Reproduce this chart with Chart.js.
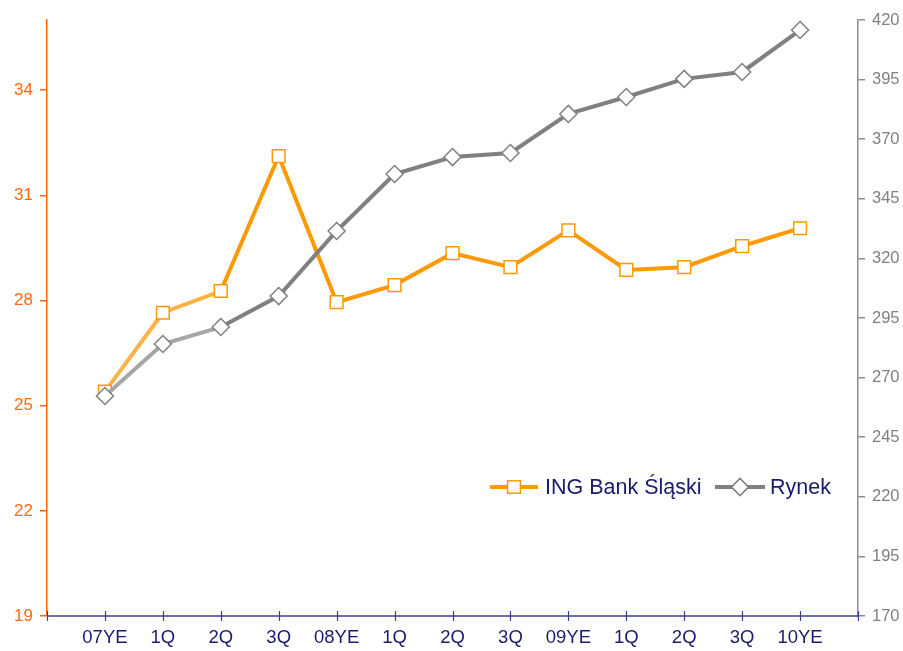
<!DOCTYPE html>
<html>
<head>
<meta charset="utf-8">
<script src="https://cdn.jsdelivr.net/npm/chart.js@4.4.1/dist/chart.umd.min.js"></script>
<style>
html,body{margin:0;padding:0;background:#fff;}
#wrap{width:903px;height:651px;position:relative;}
</style>
</head>
<body>
<div id="wrap"><canvas id="c" width="903" height="651"></canvas></div>
<script>
const categories = ['', '07YE', '1Q', '2Q', '3Q', '08YE', '1Q', '2Q', '3Q', '09YE', '1Q', '2Q', '3Q', '10YE', ''];
const ingValues = [null, 25.4, 27.65, 28.27, 32.12, 27.95, 28.44, 29.35, 28.95, 30.0, 28.87, 28.95, 29.55, 30.06, null];
const rynekValues = [null, 262.3, 284.1, 291.2, 304.2, 331.5, 355.4, 362.5, 364.2, 380.6, 387.7, 395.3, 398.2, 415.8, null];
const leftTicks = [19, 22, 25, 28, 31, 34];
const rightTicks = [170, 195, 220, 245, 270, 295, 320, 345, 370, 395, 420];
const seriesNames = ['ING Bank Śląski', 'Rynek'];

const NAVY = '#1a1a6e';
const AXIS_NAVY = '#3b3f8c';
const ORANGE = '#ff9900';
const ORANGE_L = '#ffb347';
const GREY = '#808080';
const GREY_L = '#a6a6a6';
const FONT = 'Liberation Sans, Arial, sans-serif';

const xTickPlugin = {
  id: 'xTicks',
  afterDatasetsDraw(chart) {
    const x = chart.scales.x;
    const ctx = chart.ctx;
    const y = x.top;
    ctx.save();
    ctx.strokeStyle = AXIS_NAVY;
    ctx.lineWidth = 1.5;
    ctx.beginPath();
    ctx.moveTo(x.left, y);
    ctx.lineTo(x.right, y);
    ctx.stroke();
    ctx.lineWidth = 1.2;
    for (let i = 0; i < categories.length; i++) {
      const px = Math.round(x.getPixelForValue(i)) + 0.5;
      ctx.beginPath();
      ctx.moveTo(px, y - 5);
      ctx.lineTo(px, y + 5);
      ctx.stroke();
    }
    ctx.restore();
  }
};

const legendPlugin = {
  id: 'customLegend',
  afterDraw(chart) {
    const ctx = chart.ctx;
    const y = 487;
    const items = [
      {x0: 490, x1: 538, color: ORANGE, style: 'rect', r: 9, name: seriesNames[0], tx: 545},
      {x0: 715, x1: 765, color: GREY, style: 'rectRot', r: 8.5, name: seriesNames[1], tx: 770}
    ];
    ctx.save();
    items.forEach(it => {
      ctx.strokeStyle = it.color;
      ctx.lineWidth = 4;
      ctx.beginPath();
      ctx.moveTo(it.x0, y);
      ctx.lineTo(it.x1, y);
      ctx.stroke();
      ctx.fillStyle = '#fff';
      ctx.lineWidth = 1.5;
      Chart.helpers.drawPoint(ctx, {pointStyle: it.style, radius: it.r, borderWidth: 1.5}, (it.x0 + it.x1) / 2, y);
      ctx.fill();
      ctx.stroke();
      ctx.fillStyle = NAVY;
      ctx.font = '21.5px ' + FONT;
      ctx.textBaseline = 'middle';
      ctx.textAlign = 'left';
      ctx.fillText(it.name, it.tx, y + 1);
    });
    ctx.restore();
  }
};

new Chart(document.getElementById('c'), {
  type: 'line',
  data: {
    labels: categories,
    datasets: [
      {
        label: seriesNames[0],
        data: ingValues,
        yAxisID: 'y',
        borderColor: ORANGE,
        borderWidth: 4,
        pointStyle: 'rect',
        pointRadius: 9,
        pointHoverRadius: 9,
        pointBackgroundColor: '#fff',
        pointBorderColor: ORANGE,
        pointBorderWidth: 1.5,
        tension: 0,
        order: 1,
        segment: {
          borderColor: c => (c.p0DataIndex <= 2 ? ORANGE_L : ORANGE)
        }
      },
      {
        label: seriesNames[1],
        data: rynekValues,
        yAxisID: 'y1',
        borderColor: GREY,
        borderWidth: 4,
        pointStyle: 'rectRot',
        pointRadius: 8.5,
        pointHoverRadius: 8.5,
        pointBackgroundColor: '#fff',
        pointBorderColor: GREY,
        pointBorderWidth: 1.5,
        tension: 0,
        order: 0,
        segment: {
          borderColor: c => (c.p0DataIndex <= 2 ? GREY_L : GREY)
        }
      }
    ]
  },
  options: {
    responsive: false,
    animation: false,
    layout: {padding: {top: 20, left: 0, right: 0, bottom: 0}},
    plugins: {legend: {display: false}, tooltip: {enabled: false}},
    scales: {
      x: {
        type: 'category',
        offset: false,
        grid: {display: false, drawTicks: false},
        border: {display: false},
        ticks: {color: NAVY, font: {family: FONT, size: 18.5}, padding: 11, autoSkip: false, maxRotation: 0},
        afterFit(s) { s.height = 35; }
      },
      y: {
        position: 'left',
        min: 19, max: 36,
        afterBuildTicks(s) { s.ticks = leftTicks.map(v => ({value: v})); },
        grid: {display: true, drawOnChartArea: false, tickLength: 7, color: '#ff6600', lineWidth: 1.5},
        border: {display: true, color: '#ff6600', width: 1.5},
        ticks: {color: '#ff6a10', font: {family: FONT, size: 17}, padding: 7},
        afterFit(s) { s.width = 47; }
      },
      y1: {
        position: 'right',
        min: 170, max: 420,
        afterBuildTicks(s) { s.ticks = rightTicks.map(v => ({value: v})); },
        grid: {display: true, drawOnChartArea: false, tickLength: 7, color: '#8c8c8c', lineWidth: 1.5},
        border: {display: true, color: '#8c8c8c', width: 1.5},
        ticks: {color: '#808080', font: {family: FONT, size: 16.5}, padding: 7},
        afterFit(s) { s.width = 45; }
      }
    }
  },
  plugins: [xTickPlugin, legendPlugin]
});
</script>
</body>
</html>
